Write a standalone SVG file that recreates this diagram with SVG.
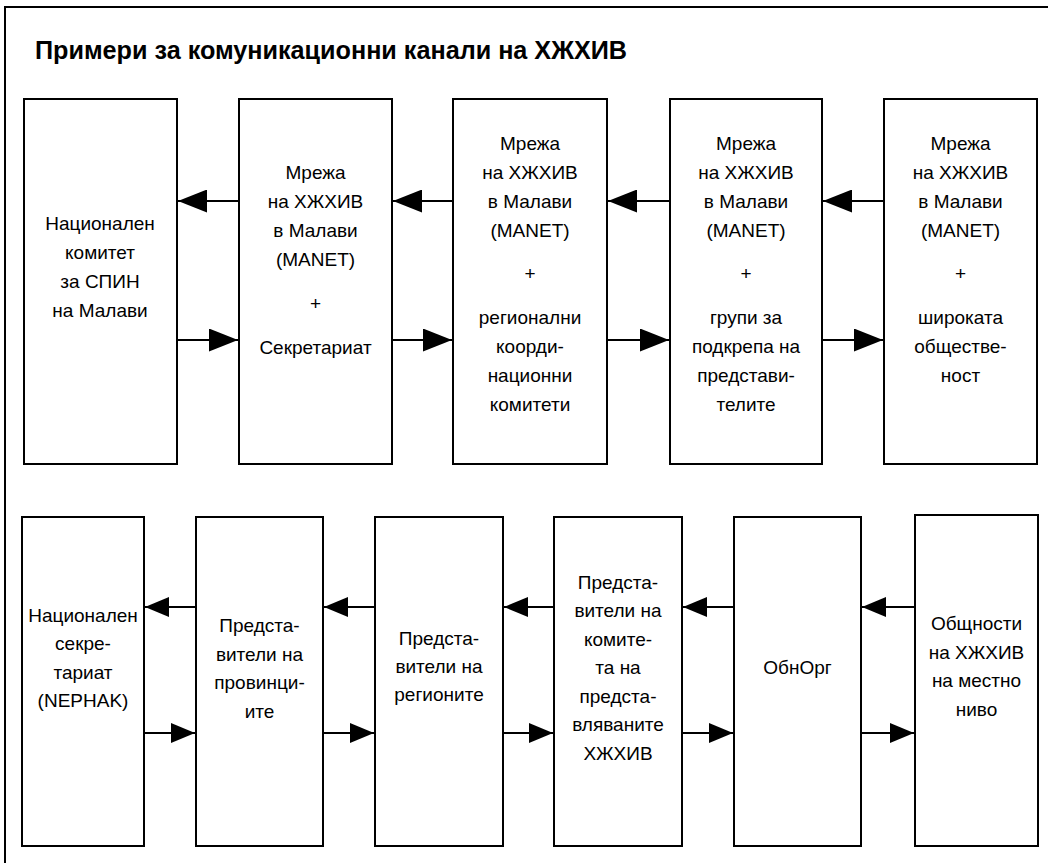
<svg xmlns="http://www.w3.org/2000/svg" width="1048" height="863" viewBox="0 0 1048 863">
<style>
.box{fill:#fff;stroke:#000;stroke-width:2}
.t{font-family:"Liberation Sans",Arial,sans-serif;font-size:19px;fill:#000;text-anchor:middle}
.title{font-family:"Liberation Sans",Arial,sans-serif;font-size:25px;font-weight:bold;fill:#000}
.c{stroke:#000;stroke-width:2;fill:none}
.ct{marker-end:url(#ah)}
.cb{marker-end:url(#ahs)}
</style>
<defs>
<marker id="ah" markerUnits="userSpaceOnUse" markerWidth="29" markerHeight="23" refX="29" refY="11.5" orient="auto"><path d="M0,0 L29,11.5 L0,23 z" fill="#000"/></marker>
<marker id="ahs" markerUnits="userSpaceOnUse" markerWidth="24" markerHeight="20" refX="24" refY="10" orient="auto"><path d="M0,0 L24,10 L0,20 z" fill="#000"/></marker>
</defs>
<rect width="1048" height="863" fill="#fff"/>
<path d="M5,863 V7 H1048" fill="none" stroke="#000" stroke-width="2"/>
<text class="title" x="35" y="59" textLength="592" lengthAdjust="spacingAndGlyphs">Примери за комуникационни канали на ХЖХИВ</text>

<g id="n1"><rect class="box" x="24" y="99" width="153" height="365"/>
<text class="t" x="100" y="230">Национален</text><text class="t" x="100" y="259">комитет</text><text class="t" x="100" y="288">за СПИН</text><text class="t" x="100" y="317">на Малави</text></g>
<g id="n2"><rect class="box" x="239" y="99" width="153" height="365"/>
<text class="t" x="315.5" y="179">Мрежа</text><text class="t" x="315.5" y="208">на ХЖХИВ</text><text class="t" x="315.5" y="237">в Малави</text><text class="t" x="315.5" y="266">(MANET)</text><text class="t" x="315.5" y="310">+</text><text class="t" x="315.5" y="354">Секретариат</text></g>
<g id="n3"><rect class="box" x="453" y="99" width="154" height="365"/>
<text class="t" x="530" y="150">Мрежа</text><text class="t" x="530" y="179">на ХЖХИВ</text><text class="t" x="530" y="208">в Малави</text><text class="t" x="530" y="237">(MANET)</text><text class="t" x="530" y="280">+</text><text class="t" x="530" y="324">регионални</text><text class="t" x="530" y="353">коорди-</text><text class="t" x="530" y="382">национни</text><text class="t" x="530" y="411">комитети</text></g>
<g id="n4"><rect class="box" x="670" y="99" width="152" height="365"/>
<text class="t" x="746" y="150">Мрежа</text><text class="t" x="746" y="179">на ХЖХИВ</text><text class="t" x="746" y="208">в Малави</text><text class="t" x="746" y="237">(MANET)</text><text class="t" x="746" y="280">+</text><text class="t" x="746" y="324">групи за</text><text class="t" x="746" y="353">подкрепа на</text><text class="t" x="746" y="382">представи-</text><text class="t" x="746" y="411">телите</text></g>
<g id="n5"><rect class="box" x="884" y="99" width="153" height="365"/>
<text class="t" x="960.5" y="150">Мрежа</text><text class="t" x="960.5" y="179">на ХЖХИВ</text><text class="t" x="960.5" y="208">в Малави</text><text class="t" x="960.5" y="237">(MANET)</text><text class="t" x="960.5" y="280">+</text><text class="t" x="960.5" y="324">широката</text><text class="t" x="960.5" y="353">обществе-</text><text class="t" x="960.5" y="382">ност</text></g>

<g id="b1"><rect class="box" x="22" y="517" width="122" height="329"/>
<text class="t" x="83" y="622">Национален</text><text class="t" x="83" y="650">секре-</text><text class="t" x="83" y="679">тариат</text><text class="t" x="83" y="707">(NEPHAK)</text></g>
<g id="b2"><rect class="box" x="196" y="517" width="127" height="329"/>
<text class="t" x="259.5" y="632">Предста-</text><text class="t" x="259.5" y="661">вители на</text><text class="t" x="259.5" y="689">провинци-</text><text class="t" x="259.5" y="718">ите</text></g>
<g id="b3"><rect class="box" x="375" y="517" width="128" height="329"/>
<text class="t" x="439" y="645">Предста-</text><text class="t" x="439" y="673">вители на</text><text class="t" x="439" y="701">регионите</text></g>
<g id="b4"><rect class="box" x="554" y="517" width="128" height="329"/>
<text class="t" x="618" y="589">Предста-</text><text class="t" x="618" y="617">вители на</text><text class="t" x="618" y="646">комите-</text><text class="t" x="618" y="674">та на</text><text class="t" x="618" y="703">предста-</text><text class="t" x="618" y="731">вляваните</text><text class="t" x="618" y="760">ХЖХИВ</text></g>
<g id="b5"><rect class="box" x="734" y="517" width="127" height="329"/>
<text class="t" x="797.5" y="674">ОбнОрг</text></g>
<g id="b6"><rect class="box" x="915" y="515" width="123" height="331"/>
<text class="t" x="976.5" y="630">Общности</text><text class="t" x="976.5" y="659">на ХЖХИВ</text><text class="t" x="976.5" y="687">на местно</text><text class="t" x="976.5" y="716">ниво</text></g>

<g id="connectors">
<line class="c ct" x1="239" y1="201" x2="178" y2="201"/>
<line class="c ct" x1="177" y1="340" x2="238" y2="340"/>
<line class="c ct" x1="453" y1="201" x2="393" y2="201"/>
<line class="c ct" x1="392" y1="340" x2="452" y2="340"/>
<line class="c ct" x1="670" y1="201" x2="608" y2="201"/>
<line class="c ct" x1="607" y1="340" x2="669" y2="340"/>
<line class="c ct" x1="884" y1="201" x2="823" y2="201"/>
<line class="c ct" x1="822" y1="340" x2="883" y2="340"/>
<line class="c cb" x1="196" y1="607" x2="145" y2="607"/>
<line class="c cb" x1="144" y1="733" x2="195" y2="733"/>
<line class="c cb" x1="375" y1="607" x2="324" y2="607"/>
<line class="c cb" x1="323" y1="733" x2="374" y2="733"/>
<line class="c cb" x1="554" y1="607" x2="504" y2="607"/>
<line class="c cb" x1="503" y1="733" x2="553" y2="733"/>
<line class="c cb" x1="734" y1="607" x2="683" y2="607"/>
<line class="c cb" x1="682" y1="733" x2="733" y2="733"/>
<line class="c cb" x1="915" y1="607" x2="862" y2="607"/>
<line class="c cb" x1="861" y1="733" x2="914" y2="733"/>
</g>
</svg>
